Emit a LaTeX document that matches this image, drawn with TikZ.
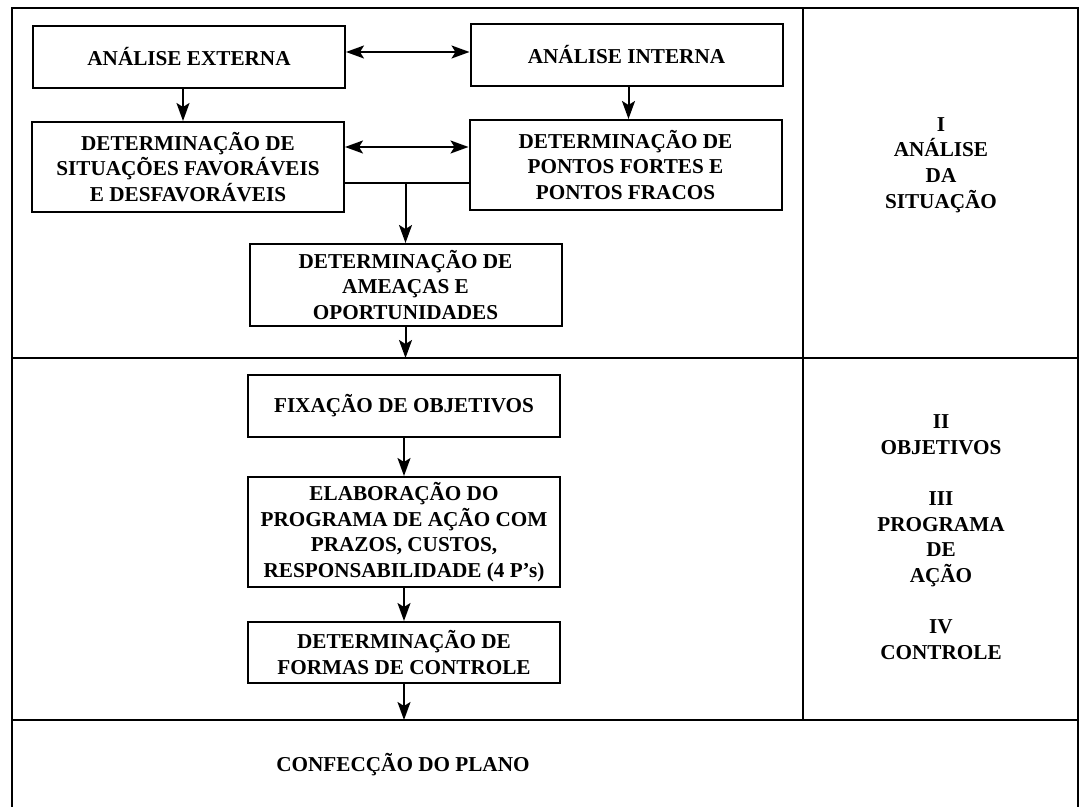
\documentclass[tikz,border=0pt]{standalone}
\usepackage{fontspec}
\setmainfont{Liberation Serif}
\usetikzlibrary{arrows.meta}

\begin{document}
\begin{tikzpicture}[x=0.5pt,y=-0.5pt,
  caixa/.style={draw, line width=1pt, minimum width=156pt, align=center, inner sep=1pt, font=\bfseries\fontsize{10.6}{12.8}\selectfont},
  rotulo/.style={align=center, font=\bfseries\fontsize{10.6}{12.8}\selectfont},
  linha/.style={line width=1pt},
  seta/.style={line width=1pt, -{Stealth[length=9pt,width=6.5pt,inset=2pt]}},
  seta2/.style={line width=1pt, {Stealth[length=9pt,width=6.5pt,inset=2pt]}-{Stealth[length=9pt,width=6.5pt,inset=2pt]}}]
\useasboundingbox (0,0) rectangle (1082,807);
\clip (0,0) rectangle (1082,807);
\draw[linha] (12,830) -- (12,8) -- (1078,8) -- (1078,830);
\draw[linha] (12,358) -- (1078,358);
\draw[linha] (12,720) -- (1078,720);
\draw[linha] (803,8) -- (803,720);
\coordinate (d1) at (405.5,358);
\coordinate (d2) at (404,720);

\node[caixa, minimum height=31pt] (ext) at (189,57) {ANÁLISE EXTERNA};
\node[caixa, minimum height=31pt] (int) at (626.5,55) {ANÁLISE INTERNA};
\node[caixa, minimum height=45pt] (sit) at (188,167) {DETERMINAÇÃO DE\\SITUAÇÕES FAVORÁVEIS\\E DESFAVORÁVEIS};
\node[caixa, minimum height=45pt] (pon) at (625.5,165) {DETERMINAÇÃO DE\\PONTOS FORTES E\\PONTOS FRACOS};
\node[caixa, minimum height=41pt] (ame) at (405.5,285) {DETERMINAÇÃO DE\\AMEAÇAS E\\OPORTUNIDADES};
\node[caixa, minimum height=31pt] (fix) at (404,406) {FIXAÇÃO DE OBJETIVOS};
\node[caixa, minimum height=55pt] (ela) at (404,532) {ELABORAÇÃO DO\\PROGRAMA DE AÇÃO COM\\PRAZOS, CUSTOS,\\RESPONSABILIDADE (4 P’s)};
\node[caixa, minimum height=30.5pt] (frm) at (404,652.5) {DETERMINAÇÃO DE\\FORMAS DE CONTROLE};

\node[rotulo] (sec1) at (941,165) {I\\ANÁLISE\\DA\\SITUAÇÃO};
\node[rotulo] (sec2) at (941,537) {II\\OBJETIVOS\\[12.8pt]III\\PROGRAMA\\DE\\AÇÃO\\[12.8pt]IV\\CONTROLE};
\node[rotulo] (plano) at (403,765) {CONFECÇÃO DO PLANO};

\draw[seta2] ([yshift=2.5pt]ext.east) -- ([yshift=2.5pt]ext.east -| int.west);
\draw[seta2] ([yshift=10pt]sit.east) -- ([yshift=10pt]sit.east -| pon.west);
\draw[seta] ([xshift=-3pt]ext.south) -- ([xshift=-3pt]ext.south |- sit.north);
\draw[seta] ([xshift=1pt]int.south) -- ([xshift=1pt]int.south |- pon.north);
\coordinate (j) at ([yshift=-8pt]sit.east -| ame.north);
\draw[linha] ([yshift=-8pt]sit.east) -- ([yshift=-8pt]sit.east -| pon.west);
\draw[seta] (j) -- (ame.north);
\draw[seta] (ame.south) -- (d1);
\draw[seta] (fix.south) -- (ela.north);
\draw[seta] (ela.south) -- (frm.north);
\draw[seta] (frm.south) -- (d2);
\end{tikzpicture}
\end{document}
